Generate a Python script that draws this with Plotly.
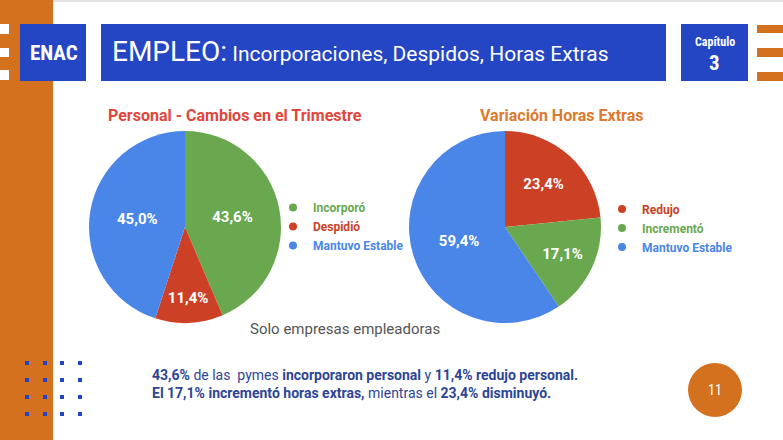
import plotly.graph_objects as go

W, H = 783, 440

# ---- data ----
pie1_title = "Personal - Cambios en el Trimestre"
pie1_labels = ["Incorporó", "Despidió", "Mantuvo Estable"]
pie1_values = [43.6, 11.4, 45.0]
pie1_colors = ["#6aa84f", "#cc4125", "#4a86e8"]

pie2_title = "Variación Horas Extras"
pie2_labels = ["Redujo", "Incrementó", "Mantuvo Estable"]
pie2_values = [23.4, 17.1, 59.4]
pie2_colors = ["#cc4125", "#6aa84f", "#4a86e8"]

note_text = "Solo empresas empleadoras"
slide_title_main = "EMPLEO:"
slide_title_sub = "Incorporaciones, Despidos, Horas Extras"
chapter_label = "Capítulo"
chapter_num = "3"
page_num = "11"

BLUE = "#2446c4"
ORANGE = "#d4711f"
TEXTBLUE = "#2e4596"
COND = "Roboto Condensed, Liberation Sans Narrow, DejaVu Sans Condensed, Roboto, sans-serif"


def X(x):
    return x / W


def Y(y):
    return 1 - y / H


def pct(v):
    return f"{v:.1f}".replace(".", ",") + "%"


fig = go.Figure()

# pies
for labels, values, colors, (x0, x1), leg in [
    (pie1_labels, pie1_values, pie1_colors, (89, 281), "legend"),
    (pie2_labels, pie2_values, pie2_colors, (409, 601), "legend2"),
]:
    fig.add_trace(go.Pie(
        labels=labels, values=values, text=[pct(v) for v in values],
        textinfo="text", textposition="inside", insidetextorientation="horizontal",
        textfont=dict(family="Roboto", size=15, color="white", weight="bold"),
        marker=dict(colors=colors, line=dict(width=0)),
        sort=False, direction="clockwise", rotation=0,
        domain=dict(x=[X(x0), X(x1)], y=[Y(323), Y(131)]),
        showlegend=False, hoverinfo="label+text",
    ))
    for lab, col in zip(labels, colors):
        fig.add_trace(go.Scatter(
            x=[None], y=[None], mode="markers",
            marker=dict(symbol="circle", size=8, color=col),
            name=f"<b><span style='color:{col}'>{lab}</span></b>",
            legend=leg, showlegend=True,
        ))

legend_common = dict(
    font=dict(family="Roboto", size=12), bgcolor="rgba(0,0,0,0)",
    xanchor="left", yanchor="top", itemwidth=30, tracegroupgap=0,
)
fig.update_layout(
    legend=dict(x=X(273), y=Y(193), **legend_common),
    legend2=dict(x=X(602), y=Y(194.5), **legend_common),
)

P = dict(xref="paper", yref="paper")
C = dict(xanchor="center", yanchor="middle", showarrow=False)
shapes = []
# orange left bar
shapes.append(dict(type="rect", **P, x0=0, x1=X(53), y0=0, y1=1,
                   fillcolor=ORANGE, line=dict(width=0), layer="below"))
shapes.append(dict(type="rect", **P, x0=X(53), x1=1, y0=Y(2), y1=1,
                   fillcolor="#e4e4e4", line=dict(width=0), layer="below"))
for (a, b) in [(24, 34), (48, 57), (70, 80)]:
    shapes.append(dict(type="rect", **P, x0=0, x1=X(9), y0=Y(b), y1=Y(a),
                       fillcolor="white", line=dict(width=0)))
for (a, b) in [(25, 33), (48, 57), (72, 81)]:
    shapes.append(dict(type="rect", **P, x0=X(757), x1=1, y0=Y(b), y1=Y(a),
                       fillcolor=ORANGE, line=dict(width=0)))
# boxes
for (a, b) in [(20, 86), (101, 666), (681, 748)]:
    shapes.append(dict(type="rect", **P, x0=X(a), x1=X(b), y0=Y(81), y1=Y(24),
                       fillcolor=BLUE, line=dict(width=0)))
# dots grid
for cx in [27, 45, 62, 80]:
    for cy in [363, 380, 397, 414]:
        shapes.append(dict(type="rect", **P, x0=X(cx - 2), x1=X(cx + 2),
                           y0=Y(cy + 2), y1=Y(cy - 2), fillcolor=BLUE, line=dict(width=0)))
# page circle
shapes.append(dict(type="circle", **P, x0=X(688), x1=X(742), y0=Y(417), y1=Y(363),
                   fillcolor=ORANGE, line=dict(width=0)))

ann = []
ann.append(dict(**P, **C, x=X(54), y=Y(53), text="<b>ENAC</b>",
                font=dict(family=COND, size=21, color="white")))
ann.append(dict(**P, x=X(110), y=Y(52), xanchor="left", yanchor="middle", showarrow=False,
                text=f"<span style='font-size:28px'>{slide_title_main}</span> "
                     f"<span style='font-size:21px'>{slide_title_sub}</span>",
                font=dict(family="Roboto", size=21, color="white")))
ann.append(dict(**P, **C, x=X(714.5), y=Y(42), text=f"<b>{chapter_label}</b>",
                font=dict(family=COND, size=12, color="white")))
ann.append(dict(**P, **C, x=X(714.5), y=Y(63), text=f"<b>{chapter_num}</b>",
                font=dict(family=COND, size=21, color="white")))
ann.append(dict(**P, **C, x=X(235), y=Y(115), text=f"<b>{pie1_title}</b>",
                font=dict(family="Roboto", size=16, color="#e0463b")))
ann.append(dict(**P, **C, x=X(561), y=Y(115), text=f"<b>{pie2_title}</b>",
                font=dict(family="Roboto", size=16, color="#dc7a2e")))
ann.append(dict(**P, **C, x=X(345), y=Y(329), text=note_text,
                font=dict(family="Roboto", size=15, color="#555555")))
line1 = (f"<b>{pct(pie1_values[0])}</b> de las  pymes <b>incorporaron personal</b> y "
         f"<b>{pct(pie1_values[1])} redujo personal.</b>")
line2 = (f"<b>El {pct(pie2_values[1])} incrementó horas extras,</b> mientras el "
         f"<b>{pct(pie2_values[0])} disminuyó.</b>")
ann.append(dict(**P, x=X(150), y=Y(383.5), xanchor="left", yanchor="middle", align="left", showarrow=False,
                text=line1 + "<br>" + line2,
                font=dict(family="Roboto", size=14, color=TEXTBLUE)))
ann.append(dict(**P, **C, x=X(715), y=Y(390), text=page_num,
                font=dict(family=COND, size=14, color="white")))

fig.update_layout(
    width=W, height=H, margin=dict(l=0, r=0, t=0, b=0),
    paper_bgcolor="white", plot_bgcolor="white",
    shapes=shapes, annotations=ann,
    xaxis=dict(visible=False), yaxis=dict(visible=False),
)

fig.write_html("out.html", config={"displayModeBar": False},
               post_script="document.body.style.margin='0';document.body.style.overflow='hidden';")
